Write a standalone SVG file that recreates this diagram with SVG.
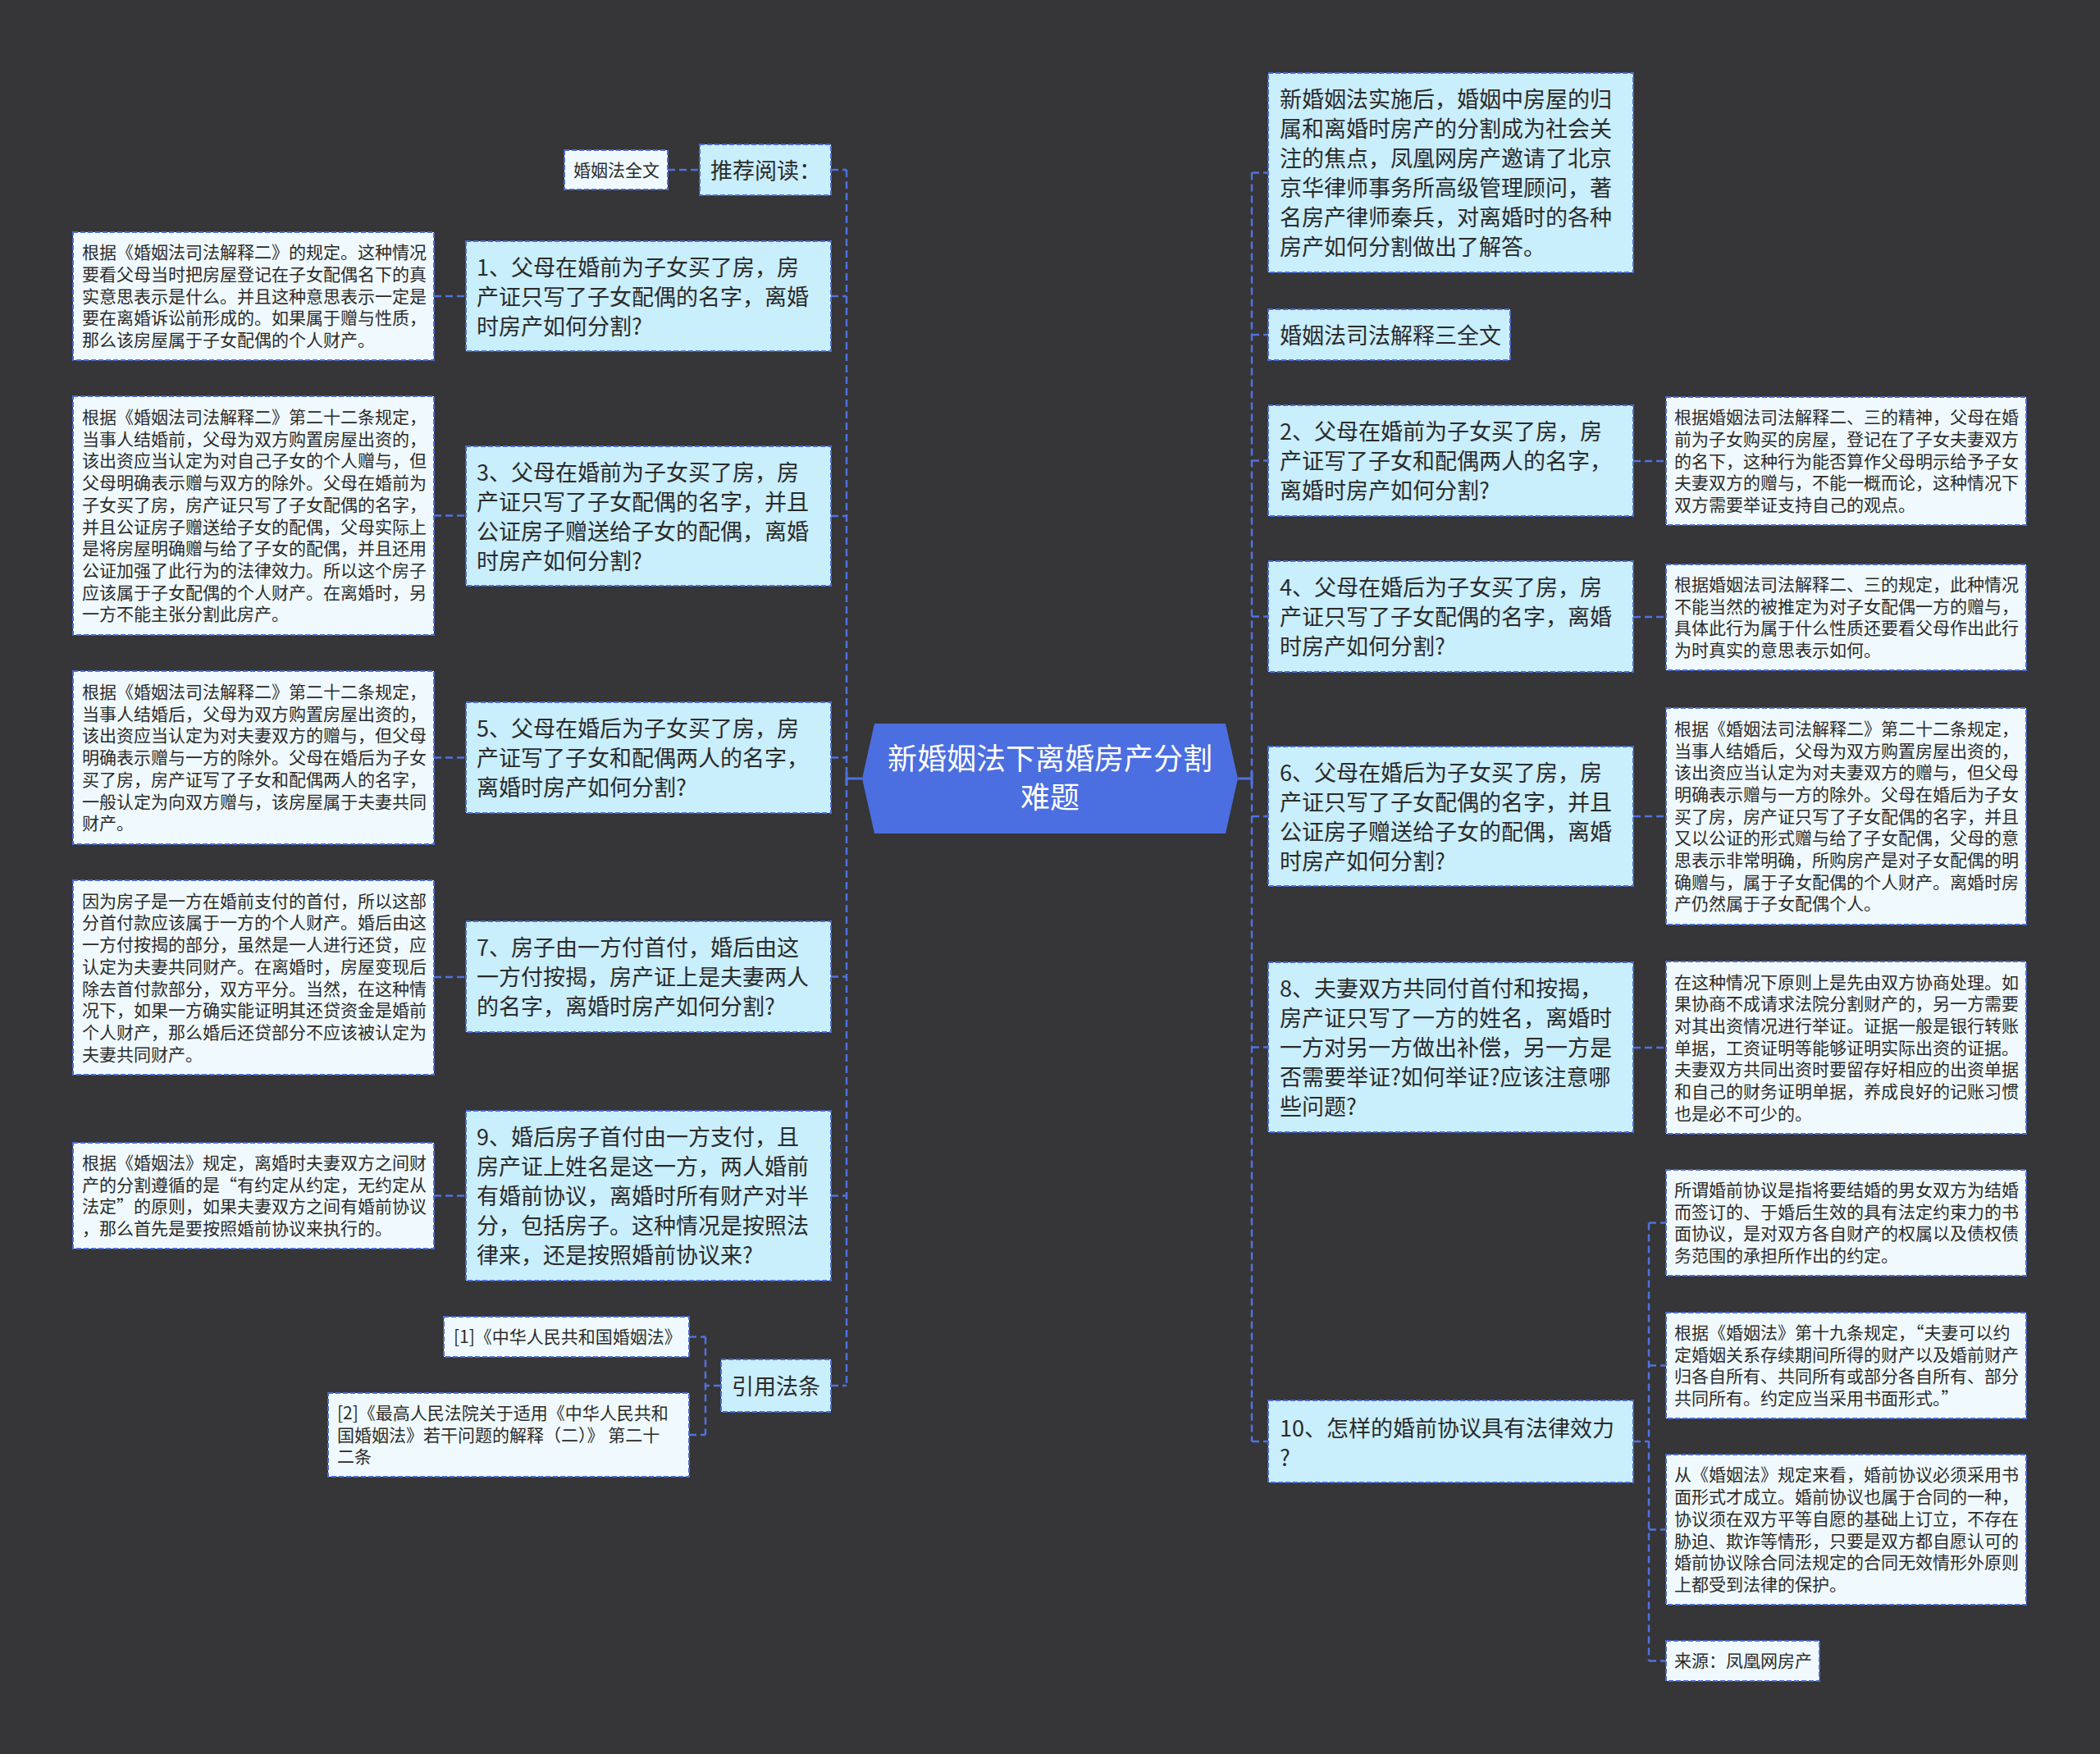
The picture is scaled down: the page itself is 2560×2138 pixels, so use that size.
<svg xmlns="http://www.w3.org/2000/svg" width="2560" height="2138" viewBox="0 0 2560 2138">
<defs>
<style>
.bg{fill:#363537}
.l1{fill:#c9eefc;stroke:#4a6cd6;stroke-width:2;stroke-dasharray:6 3}
.l2{fill:#f0fafe;stroke:#4a6cd6;stroke-width:2;stroke-dasharray:6 3}
.t1{font-family:"Noto Sans CJK SC","Noto Sans",sans-serif;font-size:27px;fill:#2b2b2b}
.t2{font-family:"Noto Sans CJK SC","Noto Sans",sans-serif;font-size:21px;fill:#2b2b2b}
.tc{font-family:"Noto Sans CJK SC","Noto Sans",sans-serif;font-size:36px;fill:#ffffff}
.cn{fill:none;stroke:#4f72e0;stroke-width:2.5;stroke-dasharray:9 5}
.cs{fill:none;stroke:#4f72e0;stroke-width:3}
</style>
</defs>
<rect class="bg" x="0" y="0" width="2560" height="2138"/>

<g id="connectors">
<path class="cn" d="M1032,207 V1689"/>
<path class="cn" d="M1013,207 H1032 M1013,361 H1032 M1013,629 H1032 M1013,923.5 H1032 M1013,1190.5 H1032 M1013,1457.5 H1032 M1013,1689 H1032"/>
<path class="cn" d="M529,361 H568 M529,628.5 H568 M529,923.5 H568 M529,1191 H568 M529,1457.5 H568 M814,207 H853"/>
<path class="cn" d="M879,1689 H860 M860,1629.5 V1749 M840,1629.5 H860 M840,1749 H860"/>
<path class="cn" d="M1526,210.5 V1757"/>
<path class="cn" d="M1526,210.5 H1546 M1526,408 H1546 M1526,561.5 H1546 M1526,751.5 H1546 M1526,995 H1546 M1526,1276.5 H1546 M1526,1757 H1546"/>
<path class="cn" d="M1991,562 H2031 M1991,752 H2031 M1991,995 H2031 M1991,1277 H2031"/>
<path class="cn" d="M1991,1757 H2010 M2010,1490.5 V2024.5 M2010,1490.5 H2031 M2010,1664.5 H2031 M2010,1864.5 H2031 M2010,2024.5 H2031"/>
<path class="cs" d="M1032,949 H1051 M1509,949 H1526 M1032,941 V957 M1526,941 V957"/>
</g>

<g id="root">
<polygon points="1051,949 1066,882 1494,882 1509,949 1494,1016 1066,1016" fill="#4b6ee0"/>
<text class="tc" text-anchor="middle"><tspan x="1280" y="938">新婚姻法下离婚房产分割</tspan><tspan x="1280" y="985">难题</tspan></text>
</g>

<g id="n-tuijian">
<rect class="l1" x="853" y="176" width="160" height="62"/>
<text class="t1" x="866" y="217.7">推荐阅读：</text>
</g>
<g id="n-hyfqw">
<rect class="l2" x="688" y="183" width="126" height="48"/>
<text class="t2" x="699" y="214.6">婚姻法全文</text>
</g>

<g id="n1">
<rect class="l1" x="568" y="294" width="445" height="134"/>
<text class="t1"><tspan x="581" y="335.7">1、父母在婚前为子女买了房，房</tspan><tspan x="581" dy="36">产证只写了子女配偶的名字，离婚</tspan><tspan x="581" dy="36">时房产如何分割?</tspan></text>
</g>
<g id="d1">
<rect class="l2" x="89" y="283" width="440" height="156"/>
<text class="t2"><tspan x="100" y="315.2">根据《婚姻法司法解释二》的规定。这种情况</tspan><tspan x="100" dy="26.7">要看父母当时把房屋登记在子女配偶名下的真</tspan><tspan x="100" dy="26.7">实意思表示是什么。并且这种意思表示一定是</tspan><tspan x="100" dy="26.7">要在离婚诉讼前形成的。如果属于赠与性质，</tspan><tspan x="100" dy="26.7">那么该房屋属于子女配偶的个人财产。</tspan></text>
</g>

<g id="n3">
<rect class="l1" x="568" y="544" width="445" height="170"/>
<text class="t1"><tspan x="581" y="585.7">3、父母在婚前为子女买了房，房</tspan><tspan x="581" dy="36">产证只写了子女配偶的名字，并且</tspan><tspan x="581" dy="36">公证房子赠送给子女的配偶，离婚</tspan><tspan x="581" dy="36">时房产如何分割?</tspan></text>
</g>
<g id="d3">
<rect class="l2" x="89" y="483" width="440" height="291"/>
<text class="t2"><tspan x="100" y="516">根据《婚姻法司法解释二》第二十二条规定，</tspan><tspan x="100" dy="26.7">当事人结婚前，父母为双方购置房屋出资的，</tspan><tspan x="100" dy="26.7">该出资应当认定为对自己子女的个人赠与，但</tspan><tspan x="100" dy="26.7">父母明确表示赠与双方的除外。父母在婚前为</tspan><tspan x="100" dy="26.7">子女买了房，房产证只写了子女配偶的名字，</tspan><tspan x="100" dy="26.7">并且公证房子赠送给子女的配偶，父母实际上</tspan><tspan x="100" dy="26.7">是将房屋明确赠与给了子女的配偶，并且还用</tspan><tspan x="100" dy="26.7">公证加强了此行为的法律效力。所以这个房子</tspan><tspan x="100" dy="26.7">应该属于子女配偶的个人财产。在离婚时，另</tspan><tspan x="100" dy="26.7">一方不能主张分割此房产。</tspan></text>
</g>

<g id="n5">
<rect class="l1" x="568" y="856" width="445" height="135"/>
<text class="t1"><tspan x="581" y="898.2">5、父母在婚后为子女买了房，房</tspan><tspan x="581" dy="36">产证写了子女和配偶两人的名字，</tspan><tspan x="581" dy="36">离婚时房产如何分割?</tspan></text>
</g>
<g id="d5">
<rect class="l2" x="89" y="818" width="440" height="211"/>
<text class="t2"><tspan x="100" y="851">根据《婚姻法司法解释二》第二十二条规定，</tspan><tspan x="100" dy="26.7">当事人结婚后，父母为双方购置房屋出资的，</tspan><tspan x="100" dy="26.7">该出资应当认定为对夫妻双方的赠与，但父母</tspan><tspan x="100" dy="26.7">明确表示赠与一方的除外。父母在婚后为子女</tspan><tspan x="100" dy="26.7">买了房，房产证写了子女和配偶两人的名字，</tspan><tspan x="100" dy="26.7">一般认定为向双方赠与，该房屋属于夫妻共同</tspan><tspan x="100" dy="26.7">财产。</tspan></text>
</g>

<g id="n7">
<rect class="l1" x="568" y="1123" width="445" height="135"/>
<text class="t1"><tspan x="581" y="1165.2">7、房子由一方付首付，婚后由这</tspan><tspan x="581" dy="36">一方付按揭，房产证上是夫妻两人</tspan><tspan x="581" dy="36">的名字，离婚时房产如何分割?</tspan></text>
</g>
<g id="d7">
<rect class="l2" x="89" y="1073" width="440" height="237"/>
<text class="t2"><tspan x="100" y="1105.7">因为房子是一方在婚前支付的首付，所以这部</tspan><tspan x="100" dy="26.7">分首付款应该属于一方的个人财产。婚后由这</tspan><tspan x="100" dy="26.7">一方付按揭的部分，虽然是一人进行还贷，应</tspan><tspan x="100" dy="26.7">认定为夫妻共同财产。在离婚时，房屋变现后</tspan><tspan x="100" dy="26.7">除去首付款部分，双方平分。当然，在这种情</tspan><tspan x="100" dy="26.7">况下，如果一方确实能证明其还贷资金是婚前</tspan><tspan x="100" dy="26.7">个人财产，那么婚后还贷部分不应该被认定为</tspan><tspan x="100" dy="26.7">夫妻共同财产。</tspan></text>
</g>

<g id="n9">
<rect class="l1" x="568" y="1354" width="445" height="207"/>
<text class="t1"><tspan x="581" y="1396.2">9、婚后房子首付由一方支付，且</tspan><tspan x="581" dy="36">房产证上姓名是这一方，两人婚前</tspan><tspan x="581" dy="36">有婚前协议，离婚时所有财产对半</tspan><tspan x="581" dy="36">分，包括房子。这种情况是按照法</tspan><tspan x="581" dy="36">律来，还是按照婚前协议来?</tspan></text>
</g>
<g id="d9">
<rect class="l2" x="89" y="1393" width="440" height="129"/>
<text class="t2"><tspan x="100" y="1425">根据《婚姻法》规定，离婚时夫妻双方之间财</tspan><tspan x="100" dy="26.7">产的分割遵循的是“有约定从约定，无约定从</tspan><tspan x="100" dy="26.7">法定”的原则，如果夫妻双方之间有婚前协议</tspan><tspan x="100" dy="26.7">，那么首先是要按照婚前协议来执行的。</tspan></text>
</g>

<g id="n-yinyong">
<rect class="l1" x="879" y="1657" width="134" height="64"/>
<text class="t1" x="892" y="1699.7">引用法条</text>
</g>
<g id="ref1">
<rect class="l2" x="541" y="1605" width="299" height="49"/>
<text class="t2" x="553" y="1637.1">[1]《中华人民共和国婚姻法》</text>
</g>
<g id="ref2">
<rect class="l2" x="400" y="1698" width="440" height="102"/>
<text class="t2"><tspan x="411" y="1729.9">[2]《最高人民法院关于适用《中华人民共和</tspan><tspan x="411" dy="26.7">国婚姻法》若干问题的解释（二）》 第二十</tspan><tspan x="411" dy="26.7">二条</tspan></text>
</g>

<g id="n-intro">
<rect class="l1" x="1546" y="89" width="445" height="243"/>
<text class="t1"><tspan x="1560" y="131.2">新婚姻法实施后，婚姻中房屋的归</tspan><tspan x="1560" dy="36">属和离婚时房产的分割成为社会关</tspan><tspan x="1560" dy="36">注的焦点，凤凰网房产邀请了北京</tspan><tspan x="1560" dy="36">京华律师事务所高级管理顾问，著</tspan><tspan x="1560" dy="36">名房产律师秦兵，对离婚时的各种</tspan><tspan x="1560" dy="36">房产如何分割做出了解答。</tspan></text>
</g>
<g id="n-sfjs3">
<rect class="l1" x="1546" y="377" width="295" height="62"/>
<text class="t1" x="1560" y="418.7">婚姻法司法解释三全文</text>
</g>

<g id="n2">
<rect class="l1" x="1546" y="494" width="445" height="135"/>
<text class="t1"><tspan x="1560" y="536.2">2、父母在婚前为子女买了房，房</tspan><tspan x="1560" dy="36">产证写了子女和配偶两人的名字，</tspan><tspan x="1560" dy="36">离婚时房产如何分割?</tspan></text>
</g>
<g id="d2">
<rect class="l2" x="2031" y="484" width="439" height="156"/>
<text class="t2"><tspan x="2041" y="516.2">根据婚姻法司法解释二、三的精神，父母在婚</tspan><tspan x="2041" dy="26.7">前为子女购买的房屋，登记在了子女夫妻双方</tspan><tspan x="2041" dy="26.7">的名下，这种行为能否算作父母明示给予子女</tspan><tspan x="2041" dy="26.7">夫妻双方的赠与，不能一概而论，这种情况下</tspan><tspan x="2041" dy="26.7">双方需要举证支持自己的观点。</tspan></text>
</g>

<g id="n4">
<rect class="l1" x="1546" y="684" width="445" height="135"/>
<text class="t1"><tspan x="1560" y="726.2">4、父母在婚后为子女买了房，房</tspan><tspan x="1560" dy="36">产证只写了子女配偶的名字，离婚</tspan><tspan x="1560" dy="36">时房产如何分割?</tspan></text>
</g>
<g id="d4">
<rect class="l2" x="2031" y="688" width="439" height="129"/>
<text class="t2"><tspan x="2041" y="720">根据婚姻法司法解释二、三的规定，此种情况</tspan><tspan x="2041" dy="26.7">不能当然的被推定为对子女配偶一方的赠与，</tspan><tspan x="2041" dy="26.7">具体此行为属于什么性质还要看父母作出此行</tspan><tspan x="2041" dy="26.7">为时真实的意思表示如何。</tspan></text>
</g>

<g id="n6">
<rect class="l1" x="1546" y="910" width="445" height="170"/>
<text class="t1"><tspan x="1560" y="951.7">6、父母在婚后为子女买了房，房</tspan><tspan x="1560" dy="36">产证只写了子女配偶的名字，并且</tspan><tspan x="1560" dy="36">公证房子赠送给子女的配偶，离婚</tspan><tspan x="1560" dy="36">时房产如何分割?</tspan></text>
</g>
<g id="d6">
<rect class="l2" x="2031" y="863" width="439" height="264"/>
<text class="t2"><tspan x="2041" y="895.8">根据《婚姻法司法解释二》第二十二条规定，</tspan><tspan x="2041" dy="26.7">当事人结婚后，父母为双方购置房屋出资的，</tspan><tspan x="2041" dy="26.7">该出资应当认定为对夫妻双方的赠与，但父母</tspan><tspan x="2041" dy="26.7">明确表示赠与一方的除外。父母在婚后为子女</tspan><tspan x="2041" dy="26.7">买了房，房产证只写了子女配偶的名字，并且</tspan><tspan x="2041" dy="26.7">又以公证的形式赠与给了子女配偶，父母的意</tspan><tspan x="2041" dy="26.7">思表示非常明确，所购房产是对子女配偶的明</tspan><tspan x="2041" dy="26.7">确赠与，属于子女配偶的个人财产。离婚时房</tspan><tspan x="2041" dy="26.7">产仍然属于子女配偶个人。</tspan></text>
</g>

<g id="n8">
<rect class="l1" x="1546" y="1173" width="445" height="207"/>
<text class="t1"><tspan x="1560" y="1215.2">8、夫妻双方共同付首付和按揭，</tspan><tspan x="1560" dy="36">房产证只写了一方的姓名，离婚时</tspan><tspan x="1560" dy="36">一方对另一方做出补偿，另一方是</tspan><tspan x="1560" dy="36">否需要举证?如何举证?应该注意哪</tspan><tspan x="1560" dy="36">些问题?</tspan></text>
</g>
<g id="d8">
<rect class="l2" x="2031" y="1172" width="439" height="210"/>
<text class="t2"><tspan x="2041" y="1204.5">在这种情况下原则上是先由双方协商处理。如</tspan><tspan x="2041" dy="26.7">果协商不成请求法院分割财产的，另一方需要</tspan><tspan x="2041" dy="26.7">对其出资情况进行举证。证据一般是银行转账</tspan><tspan x="2041" dy="26.7">单据，工资证明等能够证明实际出资的证据。</tspan><tspan x="2041" dy="26.7">夫妻双方共同出资时要留存好相应的出资单据</tspan><tspan x="2041" dy="26.7">和自己的财务证明单据，养成良好的记账习惯</tspan><tspan x="2041" dy="26.7">也是必不可少的。</tspan></text>
</g>

<g id="n10">
<rect class="l1" x="1546" y="1707" width="445" height="100"/>
<text class="t1"><tspan x="1560" y="1751">10、怎样的婚前协议具有法律效力</tspan><tspan x="1560" dy="36">?</tspan></text>
</g>
<g id="d10a">
<rect class="l2" x="2031" y="1426" width="439" height="129"/>
<text class="t2"><tspan x="2041" y="1458">所谓婚前协议是指将要结婚的男女双方为结婚</tspan><tspan x="2041" dy="26.7">而签订的、于婚后生效的具有法定约束力的书</tspan><tspan x="2041" dy="26.7">面协议，是对双方各自财产的权属以及债权债</tspan><tspan x="2041" dy="26.7">务范围的承担所作出的约定。</tspan></text>
</g>
<g id="d10b">
<rect class="l2" x="2031" y="1600" width="439" height="129"/>
<text class="t2"><tspan x="2041" y="1632">根据《婚姻法》第十九条规定，“夫妻可以约</tspan><tspan x="2041" dy="26.7">定婚姻关系存续期间所得的财产以及婚前财产</tspan><tspan x="2041" dy="26.7">归各自所有、共同所有或部分各自所有、部分</tspan><tspan x="2041" dy="26.7">共同所有。约定应当采用书面形式。”</tspan></text>
</g>
<g id="d10c">
<rect class="l2" x="2031" y="1773" width="439" height="183"/>
<text class="t2"><tspan x="2041" y="1805.4">从《婚姻法》规定来看，婚前协议必须采用书</tspan><tspan x="2041" dy="26.7">面形式才成立。婚前协议也属于合同的一种，</tspan><tspan x="2041" dy="26.7">协议须在双方平等自愿的基础上订立，不存在</tspan><tspan x="2041" dy="26.7">胁迫、欺诈等情形，只要是双方都自愿认可的</tspan><tspan x="2041" dy="26.7">婚前协议除合同法规定的合同无效情形外原则</tspan><tspan x="2041" dy="26.7">上都受到法律的保护。</tspan></text>
</g>
<g id="d10d">
<rect class="l2" x="2031" y="2000" width="187" height="49"/>
<text class="t2" x="2041" y="2032.1">来源：凤凰网房产</text>
</g>
</svg>
